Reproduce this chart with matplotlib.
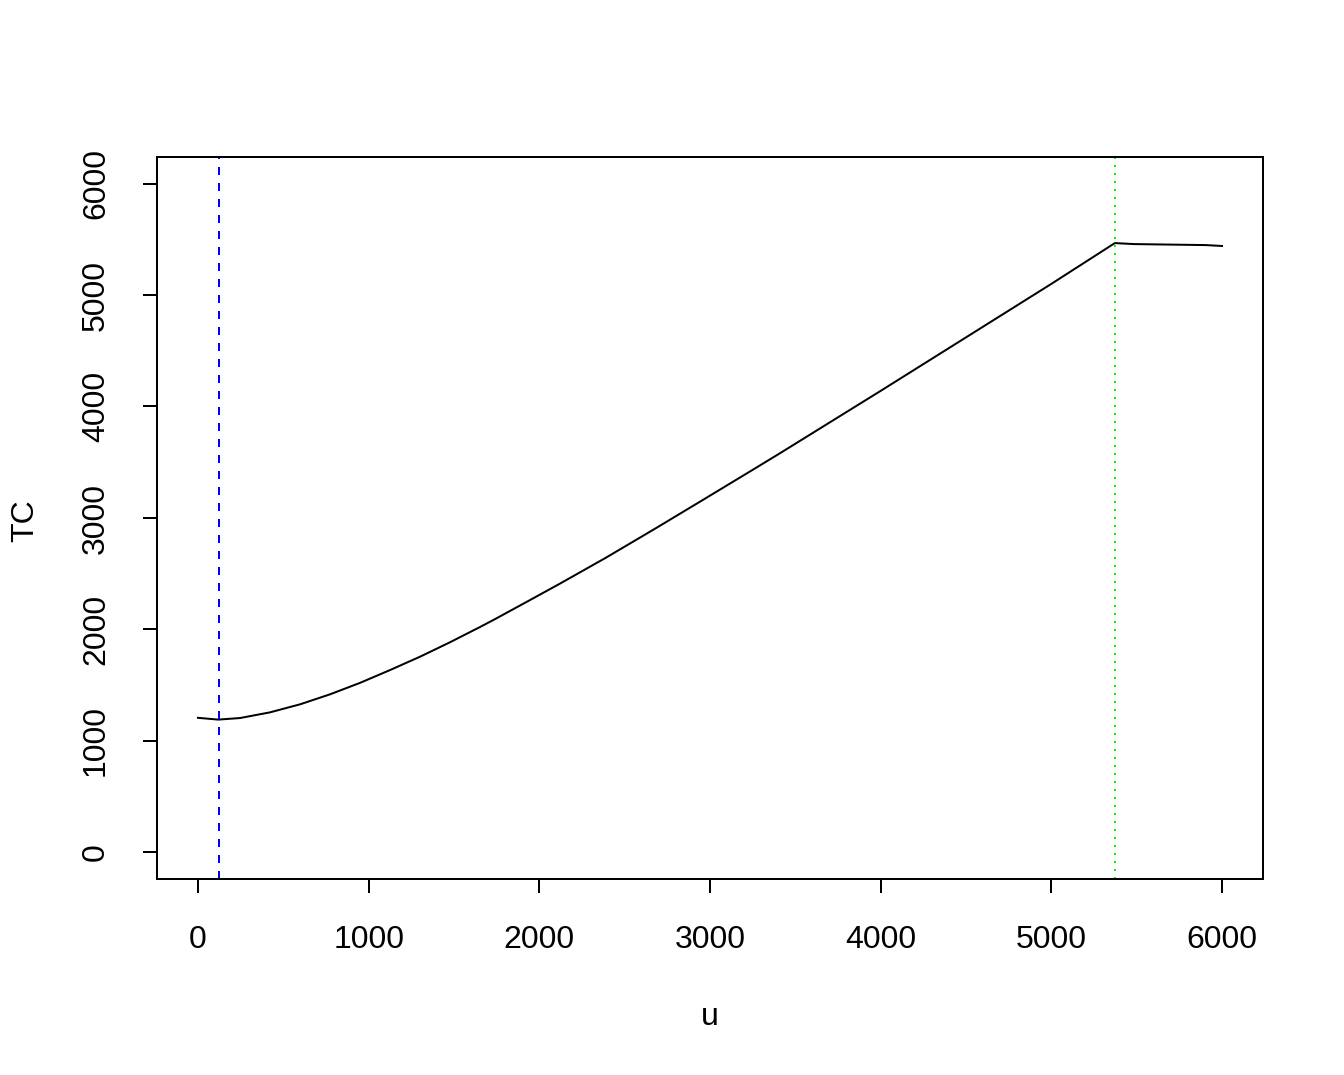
import matplotlib
matplotlib.use("Agg")
import numpy as np
import matplotlib.pyplot as plt

# values
u = [0, 119, 246, 422, 598, 774, 950, 1126, 1302, 1478, 1654, 1742, 1947,
     2123, 2387, 2680, 2944, 3238, 3413, 4000, 4500, 5000, 5372, 5485, 5906, 6000]
tc = [1206, 1190, 1204, 1255, 1327, 1417, 1520, 1635, 1755, 1885, 2022, 2093, 2264,
      2412, 2640, 2905, 3148, 3420, 3583, 4140, 4620, 5100, 5466, 5457, 5448, 5440]
u_blue = 123
u_green = 5372
xticks = [0, 1000, 2000, 3000, 4000, 5000, 6000]
yticks = [0, 1000, 2000, 3000, 4000, 5000, 6000]

plt.rcParams['font.family'] = ['Liberation Sans', 'DejaVu Sans']
plt.rcParams['font.size'] = 12

fig = plt.figure(figsize=(7, 5.6), dpi=192)
ax = fig.add_axes([157 / 1344, 1 - 879 / 1075, (1263 - 157) / 1344, (879 - 157) / 1075])

ax.plot(u, tc, color='black', lw=0.75)
ax.axvline(u_blue, color='#0000FF', lw=0.75, linestyle=(0, (4, 4)))
ax.axvline(u_green, color='#00FF00', lw=0.75, linestyle=(0, (1, 3)))

ax.set_xlim(-240, 6240)
ax.set_ylim(-240, 6240)
ax.set_xticks(xticks)
ax.set_yticks(yticks)
ax.set_yticklabels([str(v) for v in yticks], rotation=90, va='center')
ax.tick_params(length=5.25, width=0.75, pad=12, labelsize=12)
for s in ax.spines.values():
    s.set_linewidth(0.75)

ax.set_xlabel('u', va='baseline')
ax.xaxis.set_label_coords(0.5, (879 - 1025) / 722)
ax.set_ylabel('TC', va='center')
ax.yaxis.set_label_coords((25 - 157) / 1106, 0.497)

fig.savefig('out.png', dpi=192)
